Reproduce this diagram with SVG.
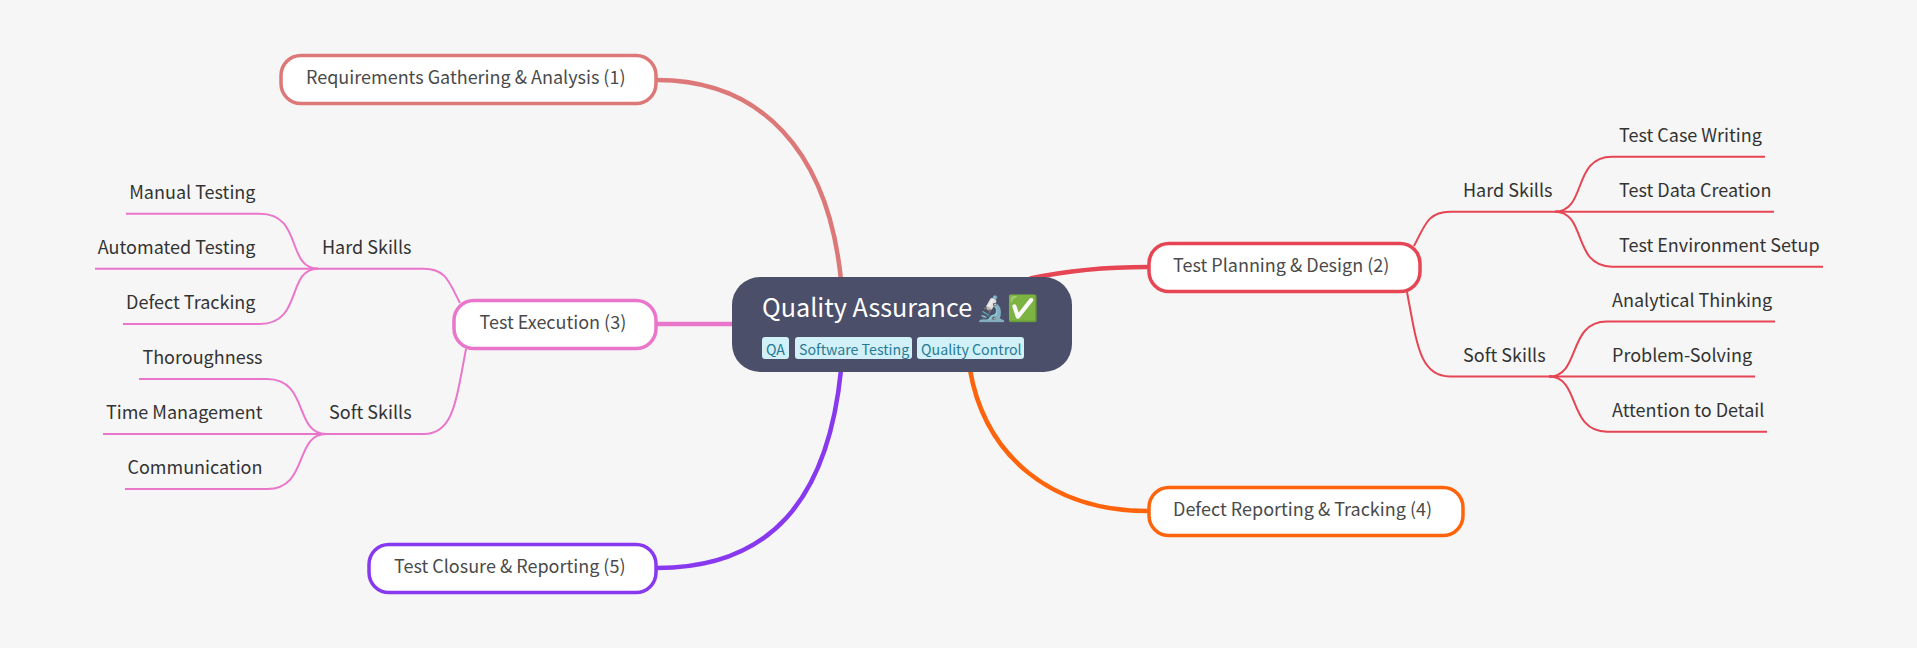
<svg xmlns="http://www.w3.org/2000/svg" width="1917" height="648" viewBox="0 0 1917 648">
<style>
text{font-family:"Noto Sans CJK JP","Noto Sans","Liberation Sans",sans-serif;font-size:18px;fill:#333}
.n rect{fill:#fff;stroke-width:3.5}
.n text{fill:#4a4a4a}
.c path{fill:none;stroke-linecap:butt}
.m{stroke-width:4.5}
.l{stroke-width:2}
.end{text-anchor:end}
.tag rect{fill:#d1f0f7}
.tag text{font-size:14.200px;fill:#267a96}
</style>
<rect width="1917" height="648" fill="#f6f6f6"/>
<g id="connectors" class="c">
<path class="m" stroke="#dd7878" d="M657 80C760 80 828 150 841 280"/>
<path class="m" stroke="#e64553" d="M1030 278.500C1070 270 1105 267 1148 267"/>
<path class="m" stroke="#ea76cb" d="M657 324H732"/>
<path class="m" stroke="#fe640b" d="M970 370C985 455 1050 511 1148 511"/>
<path class="m" stroke="#8839ef" d="M657 568C770 568 828 500 841 370"/>
<g stroke="#e64553">
<path class="l" d="M1414 246C1425 225 1428 211.700 1450 211.700H1559"/>
<path class="l" d="M1407 292C1417 345 1420 376.500 1450 376.500H1552"/>
<path class="l" d="M1555 211.700C1587 211.700 1572 156.700 1612 156.700H1765"/>
<path class="l" d="M1555 211.700H1774"/>
<path class="l" d="M1555 211.700C1587 211.700 1572 266.700 1612 266.700H1823"/>
<path class="l" d="M1549 376.500C1581 376.500 1567 321.500 1607 321.500H1775"/>
<path class="l" d="M1549 376.500H1755"/>
<path class="l" d="M1549 376.500C1581 376.500 1567 431.700 1607 431.700H1767"/>
</g>
<g stroke="#ea76cb">
<path class="l" d="M460 303C449 282 446 268.700 424 268.700H315"/>
<path class="l" d="M466 349C456 402 453 434 424 434H322"/>
<path class="l" d="M318 268.700C286 268.700 303 213.700 260 213.700H126"/>
<path class="l" d="M318 268.700H95"/>
<path class="l" d="M318 268.700C286 268.700 303 324 260 324H123"/>
<path class="l" d="M326 434C294 434 309 379 267 379H139"/>
<path class="l" d="M326 434H103"/>
<path class="l" d="M326 434C294 434 309 489 267 489H125"/>
</g>
</g>
<g id="root">
<rect x="732" y="277" width="340" height="95" rx="28" fill="#4c4f69"/>
<text x="762" y="317" style="font-size:25.200px;fill:#fff">Quality Assurance <tspan dx="-2">🔬✅</tspan></text>
<g class="tag">
<rect x="762" y="337" width="27" height="22" rx="3"/><text x="766" y="355">QA</text>
<rect x="795" y="337" width="117" height="22" rx="3"/><text x="799" y="355">Software Testing</text>
<rect x="917" y="337" width="107" height="22" rx="3"/><text x="921" y="355">Quality Control</text>
</g>
</g>
<g id="n1" class="n"><rect x="281" y="55.500" width="375" height="48" rx="20" stroke="#dd7878"/><text x="306" y="84">Requirements Gathering &amp; Analysis (1)</text></g>
<g id="n2" class="n"><rect x="1149" y="243.500" width="271" height="48" rx="20" stroke="#e64553"/><text x="1173" y="272">Test Planning &amp; Design (2)</text></g>
<g id="n3" class="n"><rect x="454" y="300.500" width="202" height="48" rx="20" stroke="#ea76cb"/><text x="479.500" y="329">Test Execution (3)</text></g>
<g id="n4" class="n"><rect x="1149" y="487.500" width="314" height="48" rx="20" stroke="#fe640b"/><text x="1173" y="516">Defect Reporting &amp; Tracking (4)</text></g>
<g id="n5" class="n"><rect x="369" y="544.500" width="287" height="48" rx="20" stroke="#8839ef"/><text x="394" y="573">Test Closure &amp; Reporting (5)</text></g>
<g id="n2-hard"><text x="1463" y="197">Hard Skills</text></g>
<g id="n2-soft"><text x="1463" y="362">Soft Skills</text></g>
<g id="n2-a"><text x="1619" y="142">Test Case Writing</text></g>
<g id="n2-b"><text x="1619" y="197">Test Data Creation</text></g>
<g id="n2-c"><text x="1619" y="252">Test Environment Setup</text></g>
<g id="n2-d"><text x="1612" y="307">Analytical Thinking</text></g>
<g id="n2-e"><text x="1612" y="362">Problem-Solving</text></g>
<g id="n2-f"><text x="1612" y="417">Attention to Detail</text></g>
<g id="n3-hard"><text x="322" y="254">Hard Skills</text></g>
<g id="n3-soft"><text x="329" y="419">Soft Skills</text></g>
<g id="n3-a"><text class="end" x="255.500" y="199">Manual Testing</text></g>
<g id="n3-b"><text class="end" x="255.500" y="254">Automated Testing</text></g>
<g id="n3-c"><text class="end" x="255.500" y="309">Defect Tracking</text></g>
<g id="n3-d"><text class="end" x="262.500" y="364">Thoroughness</text></g>
<g id="n3-e"><text class="end" x="262.500" y="419">Time Management</text></g>
<g id="n3-f"><text class="end" x="262.500" y="474">Communication</text></g>
</svg>
